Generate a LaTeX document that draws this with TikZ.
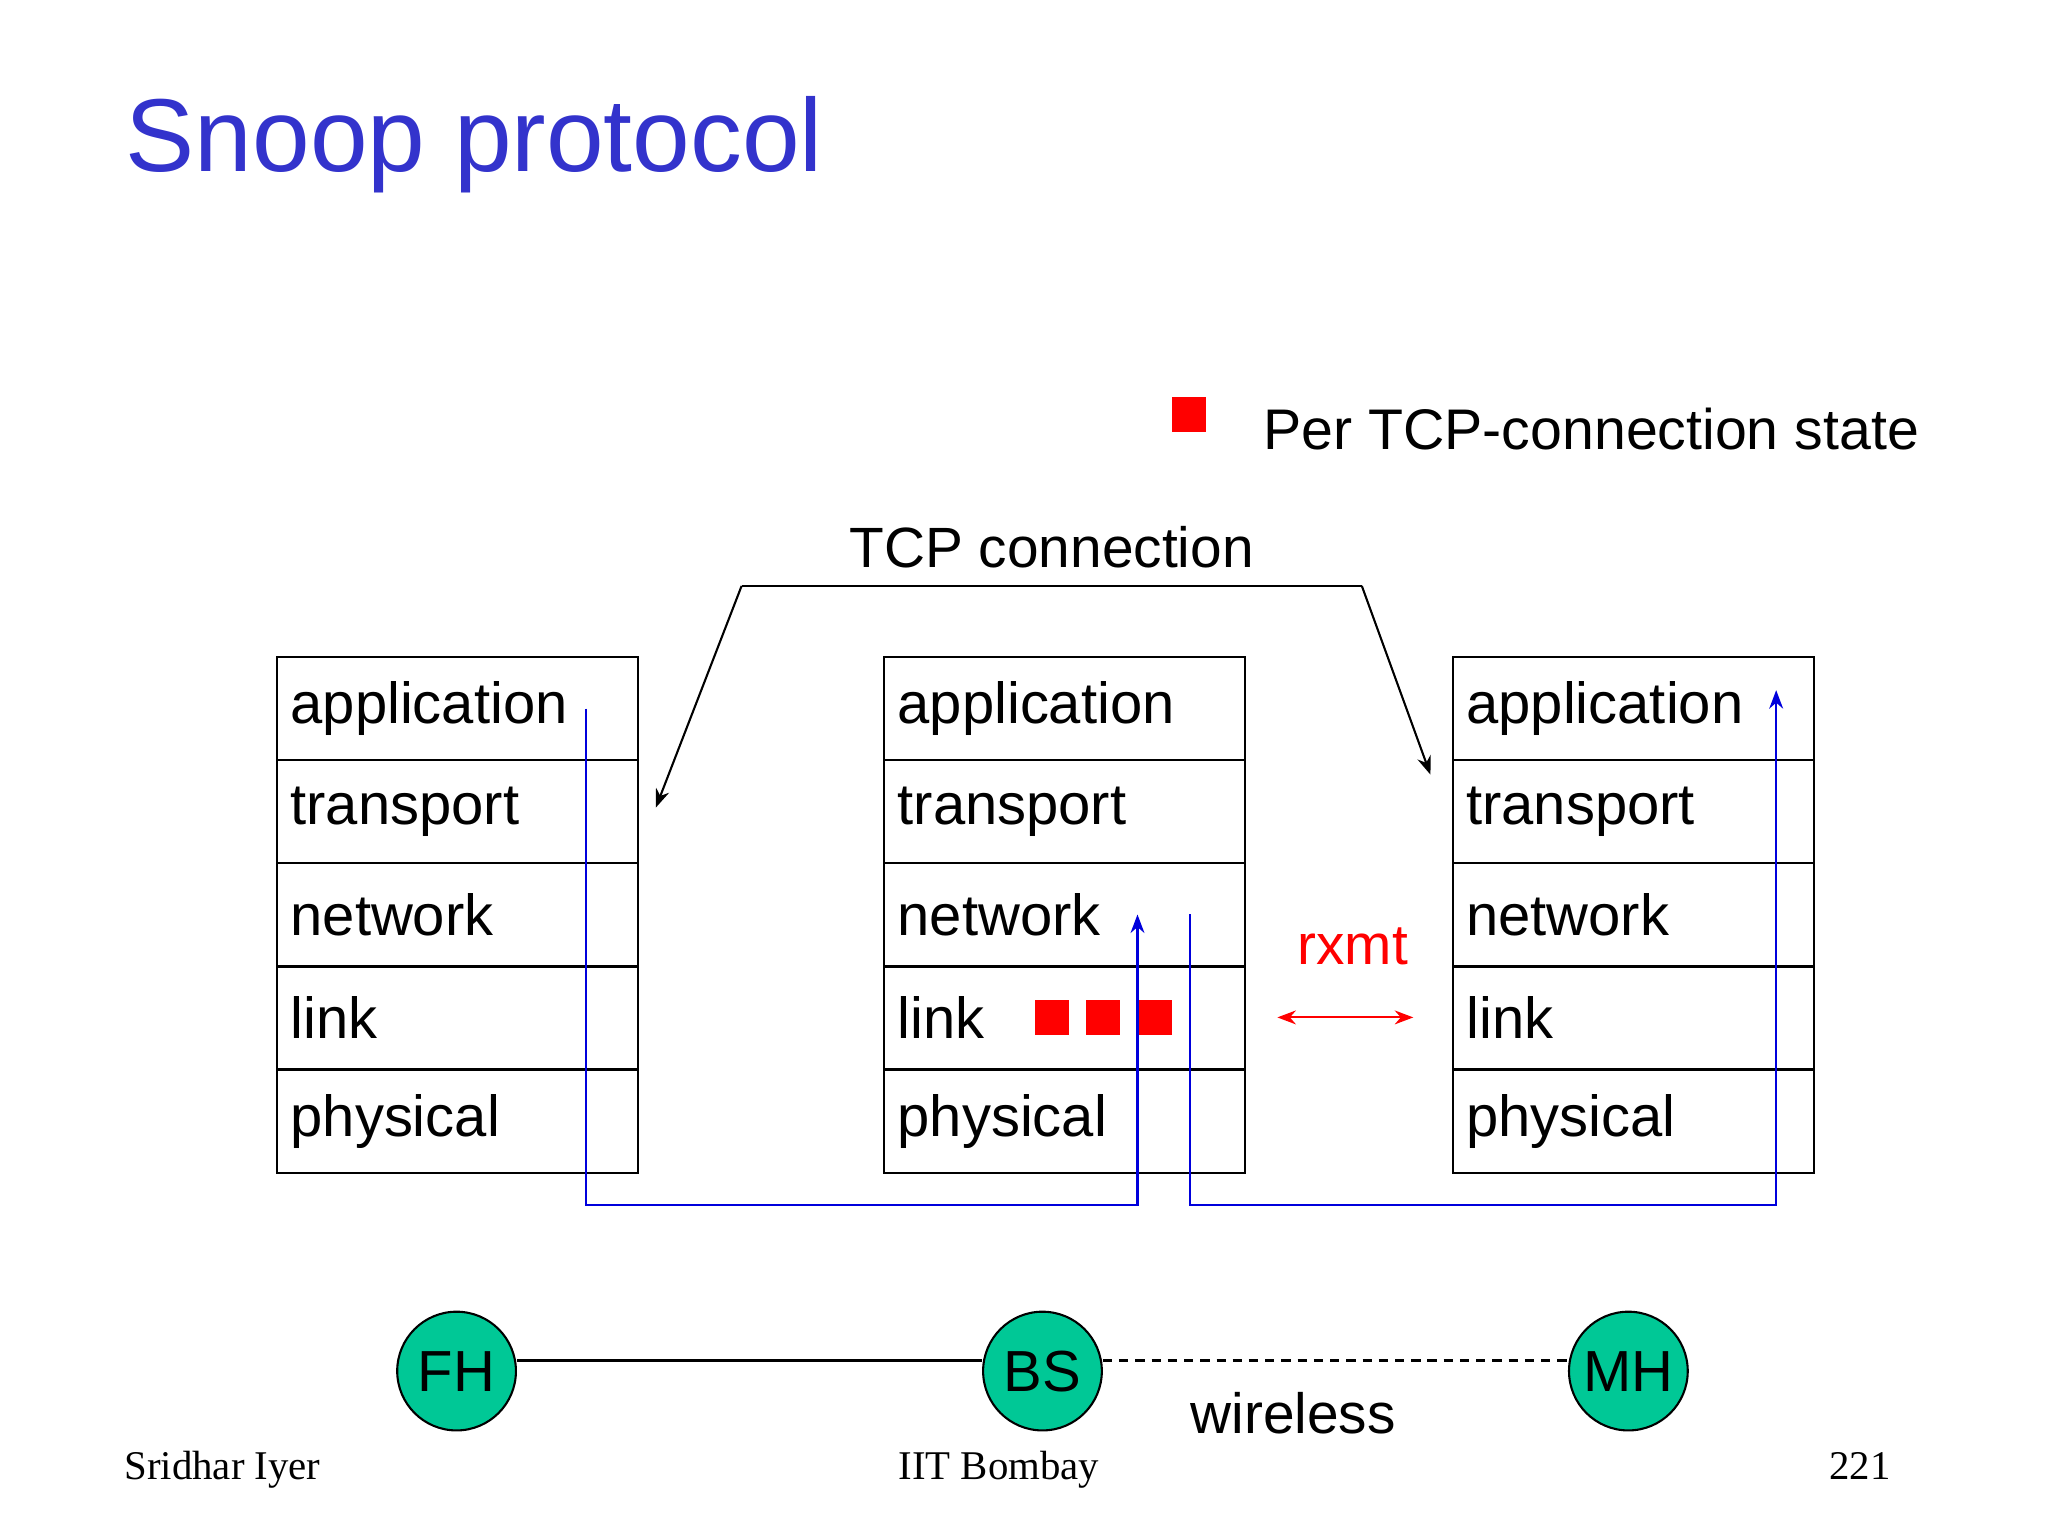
\documentclass[tikz,border=0pt]{standalone}
\usepackage{fontspec}
\setmainfont{Liberation Sans}
\newfontfamily\serifft{Liberation Serif}
\usetikzlibrary{arrows.meta}
\definecolor{ttl}{HTML}{3333CC}
\definecolor{nodegreen}{HTML}{00C896}
\begin{document}
\begin{tikzpicture}[x=0.02cm,y=-0.02cm,
  lay/.style={draw,line width=0.9pt,minimum width=5.48cm,minimum height=1.56cm,anchor=north west,inner sep=0pt},
  laytxt/.style={font=\fontsize{25}{30}\selectfont,anchor=west},
  blue/.style={draw={rgb,255:red,0;green,0;blue,220},line width=0.9pt},
  rsq/.style={fill=red,minimum size=0.52cm,inner sep=0pt},
  host/.style={circle,draw,line width=0.9pt,fill=nodegreen,minimum size=1.8cm,inner sep=0pt,font=\fontsize{25}{30}\selectfont},
  foot/.style={font=\serifft\fontsize{17.6}{21}\selectfont}]
\useasboundingbox (0,0) rectangle (1552,1164);
\node[anchor=base west,text=ttl,font=\fontsize{44.7}{52}\selectfont,inner sep=0pt] (title) at (95,130) {Snoop protocol};
\node[rsq] (leg) at (901,314) {};
\node[anchor=west,font=\fontsize{24.7}{29}\selectfont,inner sep=0pt] (legt) at (957,325) {Per TCP-connection state};
\foreach \s/\x in {L/209,M/669,R/1100}{
  \foreach \n/\t [count=\i from 0] in {a/application,t/transport,n/network,l/link,p/physical}{
    \node[lay] (\s\n) at (\x,{497+78.2*\i}) {};
    \node[laytxt] at ([xshift=0.1cm]\s\n.west) {\t};
  }
}
\node[font=\fontsize{24.5}{29}\selectfont] (tcp) at (797,415) {TCP connection};
\coordinate (c1) at (562,444); \coordinate (c2) at (1032,444);
\coordinate (e1) at (497,612); \coordinate (e2) at (1084,587);
\draw[line width=0.9pt,-{Stealth[length=8pt]}] (c1) -- (e1);
\draw[line width=0.9pt,-{Stealth[length=8pt]}] (c2) -- (e2);
\draw[line width=0.9pt] (c1) -- (c2);
\node[rsq] (s1) at (797,771) {};
\node[rsq] (s2) at (836,771) {};
\node[rsq] (s3) at (875,771) {};
\coordinate (b1) at (444,537); \coordinate (b2) at (862,693);
\coordinate (b3) at (902,693); \coordinate (b4) at (1346,523);
\draw[blue,-{Stealth[length=8pt]}] (b1) |- (862,913) -- (b2);
\draw[blue,-{Stealth[length=8pt]}] (b3) |- (1346,913) -- (b4);
\node[text=red,font=\fontsize{24.5}{29}\selectfont] (rx) at (1025,717) {rxmt};
\coordinate (r1) at (968,771); \coordinate (r2) at (1071,771);
\draw[red,line width=0.9pt,{Stealth[length=8pt]}-{Stealth[length=8pt]}] (r1) -- (r2);
\node[host] (FH) at (346,1039) {FH};
\node[host] (BS) at (790,1039) {BS};
\node[host] (MH) at (1234,1039) {MH};
\draw[line width=0.9pt] (FH.east |- 0,1031) -- (BS.west |- 0,1031);
\draw[line width=0.9pt,dashed,dash pattern=on 4pt off 3pt] (BS.east |- 0,1031) -- (MH.west |- 0,1031);
\node[font=\fontsize{24.5}{29}\selectfont] (wl) at (980,1071) {wireless};
\node[foot,anchor=base west,inner sep=0pt] (f1) at (94,1121) {Sridhar Iyer};
\node[foot,anchor=base,inner sep=0pt] (f2) at (757,1121) {IIT Bombay};
\node[foot,anchor=base east,inner sep=0pt] (f3) at (1433,1121) {221};
\end{tikzpicture}
\end{document}
